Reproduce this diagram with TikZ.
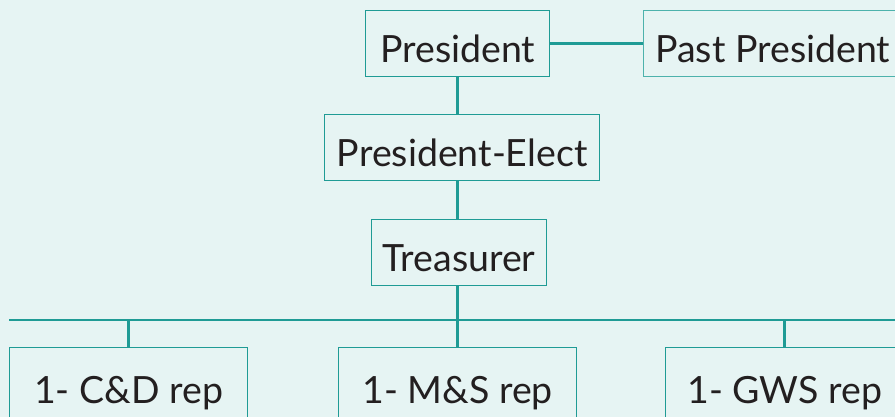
\documentclass[tikz,border=0pt]{standalone}
\usepackage{fontspec}
\setmainfont{Lato}
\definecolor{bgc}{HTML}{E6F4F3}
\definecolor{teal1}{HTML}{1F9B95}
\definecolor{teal2}{HTML}{4DB2AC}
\definecolor{txt}{HTML}{231F20}
\tikzset{
  box/.style={draw=teal1, line width=1.3pt, anchor=north west, inner xsep=0pt, inner ysep=0pt,
    text height=52pt, text depth=14pt, font=\fontsize{37.5}{40}\selectfont, text=txt},
  lowbox/.style={box, text height=56pt, text depth=30pt, minimum width=238pt},
  conn/.style={draw=teal1, line width=2.4pt}
}
\begin{document}
\begin{tikzpicture}[x=1pt,y=-1pt]
\useasboundingbox (0,0) rectangle (895,417);
\fill[bgc] (0,0) rectangle (895,417);
\clip (0,0) rectangle (895,417);
\node[box, minimum width=184pt] (pres) at (365,10) {President};
\node[box, minimum width=258pt, draw=teal2] (past) at (643,10) {Past President};
\node[box, minimum width=275pt] (elect) at (324,114) {President-Elect};
\node[box, minimum width=175pt] (treas) at (371,219) {Treasurer};
\node[lowbox] (cd) at (9,347) {1- C\&D rep};
\node[lowbox] (ms) at (338,347) {1- M\&S rep};
\node[lowbox] (gws) at (665,347) {1- GWS rep};
\coordinate (busL) at (9,320);
\coordinate (busR) at (900,320);
\draw[conn] (pres.east) -- (pres.east -| past.west);
\draw[conn] (pres.south) -- (pres.south |- elect.north);
\draw[conn] (pres.south |- elect.south) -- (pres.south |- treas.north);
\draw[conn] (pres.south |- treas.south) -- (pres.south |- busL);
\draw[conn] (busL) -- (busR);
\draw[conn] (cd.north) -- (cd.north |- busL);
\draw[conn] (ms.north) -- (ms.north |- busL);
\draw[conn] (gws.north) -- (gws.north |- busL);
\end{tikzpicture}
\end{document}
